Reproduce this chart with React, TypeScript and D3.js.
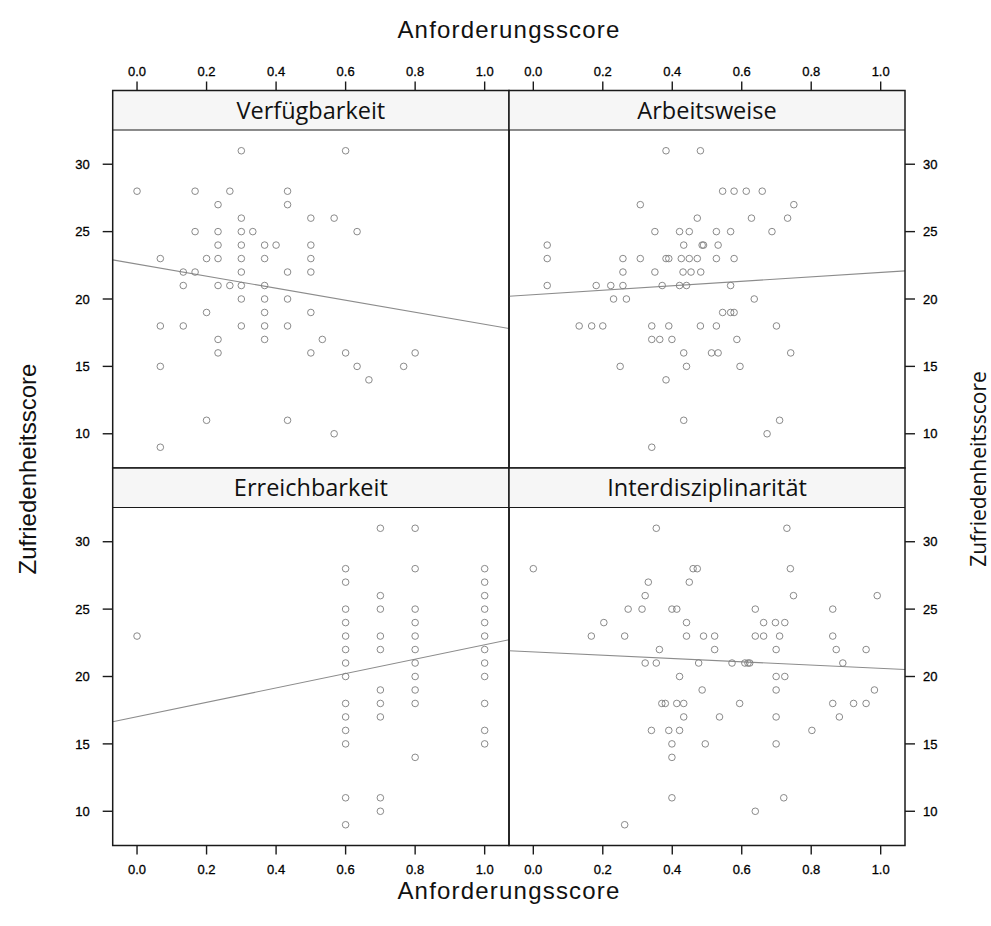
import React from 'react';
import * as d3 from 'd3';

const xTicks = [0, 0.2, 0.4, 0.6, 0.8, 1.0];
const yTicks = [10, 15, 20, 25, 30];
const panelNames = ['Verfügbarkeit', 'Arbeitsweise', 'Erreichbarkeit', 'Interdisziplinarität'];

// each row: [Zufriedenheitsscore, Anforderungsscores at that score]
const verfuegbarkeit: [number, number[]][] = [
  [31, [0.3, 0.6]],
  [28, [0, 0.167, 0.267, 0.433]],
  [27, [0.233, 0.433]],
  [26, [0.3, 0.5, 0.567]],
  [25, [0.167, 0.233, 0.3, 0.333, 0.633]],
  [24, [0.233, 0.3, 0.367, 0.4, 0.5]],
  [23, [0.067, 0.2, 0.233, 0.3, 0.367, 0.5]],
  [22, [0.133, 0.167, 0.3, 0.433, 0.5]],
  [21, [0.133, 0.233, 0.267, 0.3, 0.367]],
  [20, [0.3, 0.367, 0.433]],
  [19, [0.2, 0.367, 0.5]],
  [18, [0.067, 0.133, 0.3, 0.367, 0.433]],
  [17, [0.233, 0.367, 0.533]],
  [16, [0.233, 0.5, 0.6, 0.8]],
  [15, [0.067, 0.633, 0.767]],
  [14, [0.667]],
  [11, [0.2, 0.433]],
  [10, [0.567]],
  [9, [0.067]],
];

const arbeitsweise: [number, number[]][] = [
  [31, [0.382, 0.481]],
  [28, [0.545, 0.578, 0.613, 0.659]],
  [27, [0.308, 0.75]],
  [26, [0.472, 0.628, 0.732]],
  [25, [0.35, 0.421, 0.449, 0.527, 0.568, 0.687]],
  [24, [0.04, 0.433, 0.486, 0.49, 0.532]],
  [23, [0.04, 0.258, 0.308, 0.382, 0.39, 0.426, 0.449, 0.472, 0.527, 0.578]],
  [22, [0.258, 0.35, 0.431, 0.454, 0.482]],
  [21, [0.04, 0.181, 0.223, 0.258, 0.371, 0.421, 0.441, 0.568]],
  [20, [0.231, 0.268, 0.636]],
  [19, [0.545, 0.568, 0.578]],
  [18, [0.132, 0.168, 0.2, 0.341, 0.39, 0.481, 0.527, 0.7]],
  [17, [0.341, 0.364, 0.399, 0.586]],
  [16, [0.433, 0.513, 0.532, 0.741]],
  [15, [0.25, 0.441, 0.595]],
  [14, [0.382]],
  [11, [0.433, 0.709]],
  [10, [0.673]],
  [9, [0.341]],
];

const erreichbarkeit: [number, number[]][] = [
  [31, [0.7, 0.8]],
  [28, [0.6, 0.8, 1.0]],
  [27, [0.6, 1.0]],
  [26, [0.7, 1.0]],
  [25, [0.6, 0.7, 0.8, 1.0]],
  [24, [0.6, 0.8, 1.0]],
  [23, [0, 0.6, 0.7, 0.8, 1.0]],
  [22, [0.6, 0.7, 0.8, 1.0]],
  [21, [0.6, 0.8, 1.0]],
  [20, [0.6, 0.8, 1.0]],
  [19, [0.7, 0.8]],
  [18, [0.6, 0.7, 0.8, 1.0]],
  [17, [0.6, 0.7]],
  [16, [0.6, 1.0]],
  [15, [0.6, 1.0]],
  [14, [0.8]],
  [11, [0.6, 0.7]],
  [10, [0.7]],
  [9, [0.6]],
];

const interdisziplinaritaet: [number, number[]][] = [
  [31, [0.354, 0.73]],
  [28, [0, 0.46, 0.472, 0.74]],
  [27, [0.331, 0.449]],
  [26, [0.322, 0.749, 0.99]],
  [25, [0.273, 0.313, 0.399, 0.413, 0.639, 0.862]],
  [24, [0.203, 0.441, 0.663, 0.697, 0.724]],
  [23, [0.167, 0.263, 0.441, 0.49, 0.522, 0.639, 0.663, 0.709, 0.862]],
  [22, [0.363, 0.522, 0.699, 0.872, 0.958]],
  [21, [0.322, 0.354, 0.476, 0.572, 0.609, 0.618, 0.623, 0.891]],
  [20, [0.421, 0.699, 0.724]],
  [19, [0.486, 0.699, 0.982]],
  [18, [0.37, 0.38, 0.413, 0.433, 0.594, 0.862, 0.922, 0.958]],
  [17, [0.433, 0.536, 0.699, 0.881]],
  [16, [0.34, 0.39, 0.421, 0.802]],
  [15, [0.399, 0.495, 0.699]],
  [14, [0.399]],
  [11, [0.399, 0.721]],
  [10, [0.639]],
  [9, [0.263]],
];

// regression lines: [intercept, slope]
const fits: [number, number][] = [
  [22.59, -4.47],
  [20.32, 1.65],
  [17.02, 5.33],
  [21.83, -1.23],
];

const panelData = [verfuegbarkeit, arbeitsweise, erreichbarkeit, interdisziplinaritaet];

// layout
const W = 991;
const H = 926;
const colEdges = [112.7, 509, 905];
const top = 90.5;
const stripH = 39.5;
const panelH = 338;
const xDomain: [number, number] = [-0.07, 1.07];
const yDomain: [number, number] = [7.46, 32.54];

const tickFont = '"Liberation Sans", Arial, sans-serif';
const stripFont = '"Open Sans", "Noto Sans", sans-serif';
const tickSize = 13;

const fmt = d3.format('.1f');

export default function App() {
  const rowTop = (r: number) => top + r * (stripH + panelH);

  const panels = panelNames.map((name, i) => {
    const col = i % 2;
    const row = Math.floor(i / 2);
    const x0 = colEdges[col];
    const x1 = colEdges[col + 1];
    const sTop = rowTop(row);
    const pTop = sTop + stripH;
    const pBot = pTop + panelH;
    const x = d3.scaleLinear().domain(xDomain).range([x0, x1]);
    const y = d3.scaleLinear().domain(yDomain).range([pBot, pTop]);
    const pts = panelData[i].flatMap(([score, xs]) => xs.map((v) => [v, score] as [number, number]));
    const [a, b] = fits[i];
    const line = d3.line<number>().x((d) => x(d)).y((d) => y(a + b * d));
    return { name, i, col, row, x0, x1, sTop, pTop, pBot, x, y, pts, linePath: line(xDomain) || '' };
  });

  const tickText = {
    fontFamily: tickFont,
    fontSize: tickSize,
    fill: '#000',
    stroke: '#000',
    strokeWidth: 0.3,
  };

  return (
    <svg
      width={W}
      height={H}
      style={{ position: 'absolute', left: 0, top: 0, background: '#fff' }}
      xmlns="http://www.w3.org/2000/svg"
    >
      <rect x={0} y={0} width={W} height={H} fill="#fff" />
      <defs>
        {panels.map((p) => (
          <clipPath key={p.i} id={`clip${p.i}`}>
            <rect x={p.x0} y={p.pTop} width={p.x1 - p.x0} height={p.pBot - p.pTop} />
          </clipPath>
        ))}
      </defs>

      {panels.map((p) => (
        <g key={p.i}>
          <rect x={p.x0} y={p.sTop} width={p.x1 - p.x0} height={stripH} fill="#f6f6f6" />
          <text
            x={(p.x0 + p.x1) / 2}
            y={p.sTop + stripH / 2 + 8.5}
            textAnchor="middle"
            fontFamily={stripFont}
            fontSize={23.5}
            fill="#111"
          >
            {p.name}
          </text>
          <g clipPath={`url(#clip${p.i})`}>
            <path d={p.linePath} fill="none" stroke="#8c8c8c" strokeWidth={1.1} />
            {p.pts.map(([vx, vy], k) => (
              <circle
                key={k}
                cx={p.x(vx)}
                cy={p.y(vy)}
                r={3.3}
                fill="none"
                stroke="#7d7d7d"
                strokeWidth={0.9}
              />
            ))}
          </g>
          <rect
            x={p.x0}
            y={p.sTop}
            width={p.x1 - p.x0}
            height={stripH + panelH}
            fill="none"
            stroke="#1a1a1a"
            strokeWidth={1.5}
          />
          <line x1={p.x0} x2={p.x1} y1={p.pTop} y2={p.pTop} stroke="#1a1a1a" strokeWidth={1.2} />

          {/* top axis on first row */}
          {p.row === 0 &&
            xTicks.map((t) => (
              <g key={`t${t}`}>
                <line x1={p.x(t)} x2={p.x(t)} y1={p.sTop} y2={p.sTop - 9} stroke="#1a1a1a" strokeWidth={1.4} />
                <text x={p.x(t)} y={p.sTop - 15} textAnchor="middle" {...tickText}>
                  {fmt(t)}
                </text>
              </g>
            ))}

          {/* bottom axis on second row */}
          {p.row === 1 &&
            xTicks.map((t) => (
              <g key={`b${t}`}>
                <line x1={p.x(t)} x2={p.x(t)} y1={p.pBot} y2={p.pBot + 9} stroke="#1a1a1a" strokeWidth={1.4} />
                <text x={p.x(t)} y={p.pBot + 28} textAnchor="middle" {...tickText}>
                  {fmt(t)}
                </text>
              </g>
            ))}

          {/* left axis */}
          {p.col === 0 &&
            yTicks.map((t) => (
              <g key={`l${t}`}>
                <line x1={p.x0} x2={p.x0 - 10} y1={p.y(t)} y2={p.y(t)} stroke="#1a1a1a" strokeWidth={1.4} />
                <text x={p.x0 - 23} y={p.y(t) + 4.7} textAnchor="end" {...tickText}>
                  {t}
                </text>
              </g>
            ))}

          {/* right axis */}
          {p.col === 1 &&
            yTicks.map((t) => (
              <g key={`r${t}`}>
                <line x1={p.x1} x2={p.x1 + 10} y1={p.y(t)} y2={p.y(t)} stroke="#1a1a1a" strokeWidth={1.4} />
                <text x={p.x1 + 18} y={p.y(t) + 4.7} textAnchor="start" {...tickText}>
                  {t}
                </text>
              </g>
            ))}
        </g>
      ))}

      <text x={509} y={38} textAnchor="middle" fontFamily={tickFont} fontSize={24} letterSpacing={1.2} fill="#111">
        Anforderungsscore
      </text>
      <text x={509} y={899} textAnchor="middle" fontFamily={tickFont} fontSize={24} letterSpacing={1.2} fill="#111">
        Anforderungsscore
      </text>
      <text
        transform="translate(36,469) rotate(-90)"
        textAnchor="middle"
        fontFamily={tickFont}
        fontSize={24}
        fill="#111"
      >
        Zufriedenheitsscore
      </text>
      <text
        transform="translate(986,469) rotate(-90)"
        textAnchor="middle"
        fontFamily={stripFont}
        fontSize={21}
        fill="#111"
      >
        Zufriedenheitsscore
      </text>
    </svg>
  );
}
